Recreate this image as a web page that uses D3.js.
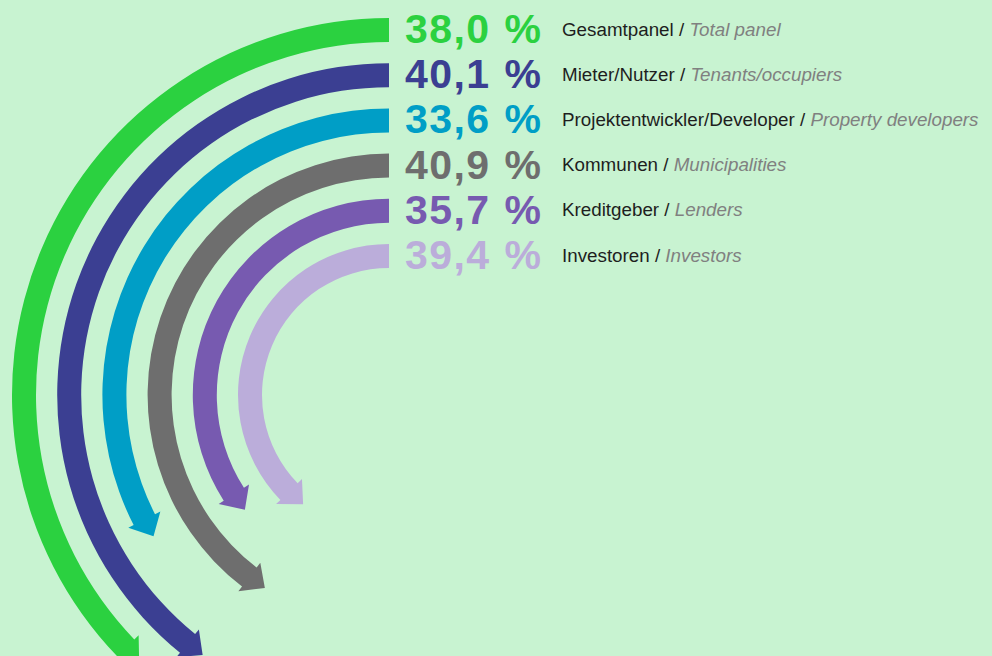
<!DOCTYPE html>
<html>
<head>
<meta charset="utf-8">
<script src="https://cdn.jsdelivr.net/npm/d3@7"></script>
<style>
  html, body { margin: 0; padding: 0; background: #c8f3d1; }
  svg { display: block; }
</style>
</head>
<body>
<svg id="chart" width="992" height="656"></svg>
<script>
const categories = ["Gesamtpanel", "Mieter/Nutzer", "Projektentwickler/Developer", "Kommunen", "Kreditgeber", "Investoren"];
const categoriesEn = ["Total panel", "Tenants/occupiers", "Property developers", "Municipalities", "Lenders", "Investors"];
const values = [38.0, 40.1, 33.6, 40.9, 35.7, 39.4];
const colors = ["#2bd140", "#3b3f92", "#009ec6", "#6e6e6e", "#775ab0", "#bbadda"];

const W = 992, H = 656;
const cx = 389, cy = 395;
const band = 24, headLen = 19, headHalf = 18;

const svg = d3.select("#chart");
svg.append("rect").attr("width", W).attr("height", H).attr("fill", "#c8f3d1");

const rScale = d3.scalePoint().domain(categories).range([365, 139]);
const aScale = d3.scaleLinear().domain([0, 100]).range([0, -2 * Math.PI]);
const color = d3.scaleOrdinal().domain(categories).range(colors);

const data = categories.map((c, i) => ({ cat: c, en: categoriesEn[i], value: values[i] }));

const g = svg.append("g").attr("transform", `translate(${cx},${cy})`);

const toCanvas = a => a - Math.PI / 2;
const pt = (a, r) => [r * Math.sin(a), -r * Math.cos(a)];

data.forEach(d => {
  const r = rScale(d.cat);
  const ro = r + band / 2, ri = r - band / 2;
  const aTip = aScale(d.value);
  const aBase = aTip + headLen / r;
  const p = d3.path();
  const s0 = pt(0, ro);
  p.moveTo(s0[0], s0[1]);
  p.arc(0, 0, ro, toCanvas(0), toCanvas(aBase), true);
  const c1 = pt(aBase, r + headHalf);
  const tip = pt(aTip, r);
  const c2 = pt(aBase, r - headHalf);
  const e1 = pt(aBase, ri);
  p.lineTo(c1[0], c1[1]);
  p.lineTo(tip[0], tip[1]);
  p.lineTo(c2[0], c2[1]);
  p.lineTo(e1[0], e1[1]);
  p.arc(0, 0, ri, toCanvas(aBase), toCanvas(0), false);
  p.closePath();
  g.append("path").attr("d", p.toString()).attr("fill", color(d.cat));
});

const fmt = v => d3.format(".1f")(v).replace(".", ",");

data.forEach(d => {
  const yc = cy - rScale(d.cat);
  const num = svg.append("text")
    .attr("x", 405).attr("y", yc + 13)
    .attr("font-family", "Liberation Sans, Arial, sans-serif")
    .attr("font-weight", "bold")
    .attr("font-size", 41)
    .attr("letter-spacing", 1.4)
    .attr("fill", color(d.cat));
  num.append("tspan").text(fmt(d.value));
  num.append("tspan").attr("dx", 14).text("%");
  const t = svg.append("text")
    .attr("x", 562).attr("y", yc + 5.5)
    .attr("font-family", "Liberation Sans, Arial, sans-serif")
    .attr("font-size", 18.8)
    .attr("fill", "#1e1e1e");
  t.append("tspan").text(d.cat + " / ");
  t.append("tspan").attr("font-style", "italic").attr("fill", "#808080").text(d.en);
});
</script>
</body>
</html>
